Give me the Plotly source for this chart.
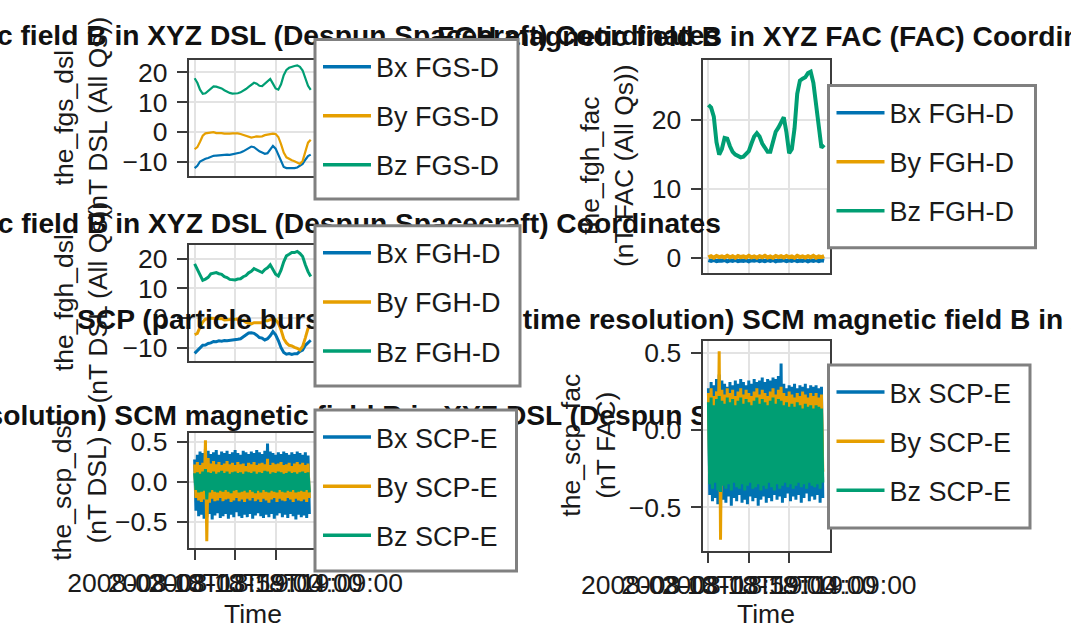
import pandas as pd
import plotly.graph_objects as go

W, H = 1071, 628
FONT = "Liberation Sans"
C_BX, C_BY, C_BZ = "#0072B2", "#E69F00", "#009E73"
SPINE = "#3c3c3c"
GRID = "#e3e3e3"
TXT = "#1a1a1a"

# ---------------- data ----------------
t_start = "2008-03-18 18:59:00"
x_range = ["2008-03-18 18:58:16", "2008-03-18 19:14:05"]
tick_times = ["2008-03-18 18:59:00", "2008-03-18 19:04:00", "2008-03-18 19:09:00"]
tick_labels = ["2008-03-18T18:59:00", "2008-03-18T19:04:00", "2008-03-18T19:09:00"]

# FGS DSL (20 s samples)
fgs_bx = [-12.0, -11.2, -9.8, -9.2, -8.9, -8.6, -8.2, -7.9, -7.8, -7.7, -7.6, -7.6, -7.5, -7.6, -7.4,
          -7.3, -7.2, -6.8, -6.4, -5.8, -5.1, -4.8, -5.0, -5.8, -6.4, -6.8, -7.2, -7.0, -5.8, -4.6,
          -5.5, -7.6, -9.8, -11.6, -12.0, -12.0, -12.1, -12.0, -11.8, -11.2, -10.6, -9.2, -8.0, -7.5]
fgs_by = [-5.7, -5.0, -3.2, -1.2, -0.4, -0.2, -0.1, 0.0, -0.3, -0.2, -0.3, -0.5, -0.6, -0.5, -0.4,
          -0.3, -0.4, -0.6, -0.9, -1.3, -1.7, -1.8, -1.6, -1.4, -1.5, -1.4, -1.0, -0.8, -0.6, -0.5,
          -0.6, -1.6, -4.0, -6.8, -8.4, -9.0, -9.4, -9.7, -10.2, -10.6, -9.6, -6.5, -3.5, -2.5]
fgs_bz = [18.0, 16.5, 14.2, 12.8, 13.0, 13.8, 14.8, 15.3, 15.2, 15.0, 14.6, 14.0, 13.5, 13.1, 12.9,
          12.9, 13.0, 13.3, 13.8, 14.4, 15.1, 15.8, 16.5, 16.2, 15.5, 15.4, 16.2, 17.0, 17.8, 16.2,
          14.6, 14.2, 16.0, 19.0, 20.8, 21.5, 21.9, 22.1, 22.3, 21.8, 20.6, 18.0, 15.5, 14.1]

# FGH DSL (20 s samples)
fgh_dsl_bx = [-11.8, -11.0, -9.9, -9.1, -9.0, -8.5, -8.3, -7.8, -7.9, -7.6, -7.7, -7.5, -7.6, -7.5, -7.3,
              -7.4, -7.1, -6.9, -6.3, -5.9, -5.0, -4.9, -5.1, -5.7, -6.5, -6.7, -7.3, -6.9, -5.9, -4.5,
              -5.6, -7.5, -9.9, -11.5, -12.1, -11.9, -12.2, -11.9, -11.9, -11.1, -10.7, -9.1, -8.1, -7.4]
fgh_dsl_by = [-5.5, -5.1, -3.0, -1.3, -0.3, -0.3, 0.0, -0.1, -0.2, -0.3, -0.2, -0.6, -0.5, -0.6, -0.3,
              -0.4, -0.3, -0.7, -0.8, -1.4, -1.6, -1.9, -1.5, -1.5, -1.4, -1.5, -0.9, -0.9, -0.5, -0.6,
              -0.5, -1.7, -3.9, -6.9, -8.3, -9.1, -9.3, -9.8, -10.1, -10.7, -9.5, -6.6, -3.4, -2.6]
fgh_dsl_bz = [18.2, 16.4, 14.3, 12.7, 13.1, 13.7, 14.9, 15.2, 15.3, 14.9, 14.7, 13.9, 13.6, 13.0, 13.0,
              12.8, 13.1, 13.2, 13.9, 14.3, 15.2, 15.7, 16.6, 16.1, 15.6, 15.3, 16.3, 16.9, 17.9, 16.1,
              14.7, 14.1, 16.1, 18.9, 20.9, 21.4, 22.0, 22.0, 22.4, 21.7, 20.7, 17.9, 15.6, 14.0]

# FGH FAC (20 s samples)
fgh_fac_bx = [-0.30, -0.42, -0.27, -0.45, -0.34, -0.39, -0.28, -0.46, -0.32, -0.41, -0.26, -0.44,
              -0.35, -0.40, -0.29, -0.47, -0.31, -0.38, -0.27, -0.43, -0.33, -0.45, -0.30, -0.41,
              -0.28, -0.46, -0.34, -0.39, -0.29, -0.44, -0.32, -0.42, -0.27, -0.45, -0.35, -0.40,
              -0.30, -0.47, -0.33, -0.41, -0.28, -0.43, -0.31, -0.39]
fgh_fac_by = [0.10, 0.28, 0.06, 0.31, 0.14, 0.25, 0.08, 0.33, 0.12, 0.27, 0.05, 0.30,
              0.15, 0.24, 0.09, 0.32, 0.11, 0.26, 0.07, 0.29, 0.13, 0.34, 0.10, 0.25,
              0.06, 0.31, 0.14, 0.27, 0.08, 0.30, 0.12, 0.24, 0.05, 0.33, 0.15, 0.26,
              0.09, 0.29, 0.11, 0.32, 0.07, 0.25, 0.13, 0.28]
fgh_fac_bz = [22.2, 21.8, 20.5, 16.8, 15.0, 15.8, 17.4, 17.3, 16.2, 15.4, 15.0, 14.8, 14.6, 14.7, 15.1,
              15.5, 16.6, 17.6, 18.1, 17.6, 16.6, 15.9, 15.4, 15.4, 16.8, 18.3, 18.9, 19.6, 20.4, 18.2,
              15.2, 15.8, 18.8, 23.8, 25.7, 26.0, 26.2, 26.8, 27.0, 25.4, 22.0, 18.6, 16.0, 16.4]

# SCP DSL (10 s samples of the burst waveform extremes)
scp_dsl_bx = [0.28, -0.36, 0.34, -0.43, 0.38, -0.41, 0.36, -0.46,
              0.41, -0.44, 0.39, -0.40, 0.35, -0.47, 0.37, -0.42,
              0.40, -0.39, 0.34, -0.45, 0.38, -0.43, 0.36, -0.40,
              0.39, -0.46, 0.35, -0.41, 0.37, -0.44, 0.40, -0.38,
              0.36, -0.43, 0.34, -0.45, 0.39, -0.41, 0.37, -0.44,
              0.35, -0.40, 0.38, -0.46, 0.36, -0.42, 0.40, -0.39,
              0.37, -0.43, 0.35, -0.45, 0.39, -0.41, 0.48, -0.44,
              0.38, -0.40, 0.36, -0.46, 0.34, -0.42, 0.37, -0.39,
              0.35, -0.44, 0.38, -0.41, 0.36, -0.45, 0.34, -0.40,
              0.37, -0.43, 0.35, -0.47, 0.38, -0.41, 0.36, -0.44,
              0.34, -0.42, 0.37, -0.45, 0.33, -0.40]
scp_dsl_by = [0.22, -0.20, 0.25, -0.23, 0.21, -0.25, 0.24, -0.22,
              0.52, -0.74, 0.30, -0.26, 0.23, -0.21, 0.26, -0.24,
              0.22, -0.23, 0.25, -0.20, 0.21, -0.24, 0.23, -0.22,
              0.26, -0.21, 0.22, -0.25, 0.24, -0.23, 0.21, -0.20,
              0.25, -0.24, 0.22, -0.22, 0.23, -0.25, 0.20, -0.21,
              0.24, -0.23, 0.22, -0.20, 0.25, -0.24, 0.21, -0.22,
              0.23, -0.25, 0.24, -0.21, 0.22, -0.23, 0.29, -0.26,
              0.21, -0.22, 0.24, -0.20, 0.22, -0.25, 0.23, -0.21,
              0.25, -0.23, 0.21, -0.24, 0.22, -0.20, 0.24, -0.22,
              0.20, -0.25, 0.23, -0.21, 0.25, -0.23, 0.22, -0.24,
              0.24, -0.22, 0.21, -0.25, 0.23, -0.20]
scp_dsl_bz = [0.11, -0.10, 0.12, -0.13, 0.10, -0.12, 0.13, -0.11,
              0.16, -0.22, 0.12, -0.13, 0.11, -0.10, 0.13, -0.12,
              0.10, -0.13, 0.12, -0.11, 0.14, -0.12, 0.11, -0.10,
              0.13, -0.12, 0.10, -0.14, 0.12, -0.11, 0.13, -0.10,
              0.11, -0.13, 0.12, -0.12, 0.10, -0.11, 0.13, -0.13,
              0.12, -0.10, 0.11, -0.12, 0.13, -0.14, 0.10, -0.11,
              0.12, -0.13, 0.11, -0.10, 0.14, -0.12, 0.13, -0.13,
              0.10, -0.11, 0.12, -0.12, 0.11, -0.13, 0.13, -0.10,
              0.12, -0.12, 0.10, -0.13, 0.11, -0.11, 0.13, -0.12,
              0.11, -0.10, 0.12, -0.13, 0.10, -0.12, 0.12, -0.11,
              0.13, -0.12, 0.11, -0.10, 0.12, -0.13]

# SCP FAC
scp_fac_bx = [0.27, -0.42, 0.31, -0.46, 0.29, -0.44, 0.33, -0.48,
              0.36, -0.52, 0.32, -0.45, 0.30, -0.47, 0.28, -0.43,
              0.31, -0.49, 0.29, -0.44, 0.32, -0.46, 0.30, -0.42,
              0.33, -0.47, 0.31, -0.45, 0.29, -0.48, 0.32, -0.43,
              0.30, -0.46, 0.33, -0.44, 0.31, -0.49, 0.32, -0.45,
              0.34, -0.43, 0.31, -0.47, 0.33, -0.44, 0.32, -0.46,
              0.34, -0.42, 0.33, -0.45, 0.35, -0.43, 0.43, -0.47,
              0.30, -0.44, 0.27, -0.41, 0.29, -0.46, 0.28, -0.43,
              0.30, -0.45, 0.27, -0.42, 0.29, -0.47, 0.28, -0.44,
              0.30, -0.41, 0.27, -0.46, 0.29, -0.43, 0.28, -0.45,
              0.29, -0.42, 0.27, -0.47, 0.28, -0.44]
scp_fac_by = [0.24, -0.28, 0.27, -0.31, 0.22, -0.26, 0.25, -0.30,
              0.51, -0.71, 0.26, -0.29, 0.23, -0.32, 0.27, -0.27,
              0.24, -0.30, 0.26, -0.28, 0.22, -0.31, 0.25, -0.29,
              0.27, -0.26, 0.23, -0.30, 0.26, -0.32, 0.24, -0.28,
              0.22, -0.29, 0.25, -0.31, 0.27, -0.27, 0.23, -0.30,
              0.26, -0.28, 0.24, -0.32, 0.22, -0.29, 0.25, -0.27,
              0.27, -0.31, 0.23, -0.28, 0.26, -0.30, 0.28, -0.29,
              0.24, -0.27, 0.22, -0.31, 0.25, -0.28, 0.23, -0.30,
              0.21, -0.29, 0.24, -0.27, 0.22, -0.31, 0.25, -0.28,
              0.23, -0.30, 0.21, -0.27, 0.24, -0.29, 0.22, -0.31,
              0.24, -0.28, 0.21, -0.30, 0.23, -0.27]
scp_fac_bz = [0.18, -0.35, 0.21, -0.38, 0.16, -0.34, 0.20, -0.39,
              0.22, -0.40, 0.19, -0.36, 0.17, -0.38, 0.21, -0.35,
              0.18, -0.39, 0.20, -0.34, 0.16, -0.37, 0.19, -0.38,
              0.21, -0.35, 0.17, -0.39, 0.20, -0.36, 0.18, -0.34,
              0.16, -0.38, 0.19, -0.37, 0.21, -0.35, 0.17, -0.39,
              0.20, -0.36, 0.18, -0.38, 0.16, -0.34, 0.19, -0.37,
              0.21, -0.39, 0.17, -0.35, 0.20, -0.38, 0.19, -0.36,
              0.16, -0.34, 0.18, -0.37, 0.15, -0.35, 0.17, -0.38,
              0.15, -0.36, 0.18, -0.34, 0.16, -0.37, 0.14, -0.35,
              0.17, -0.38, 0.15, -0.34, 0.16, -0.36, 0.14, -0.37,
              0.16, -0.35, 0.15, -0.38, 0.14, -0.34]

titles = [
    "FGS magnetic field B in XYZ DSL (Despun Spacecraft) Coordinates",
    "FGH magnetic field B in XYZ FAC (FAC) Coordinates",
    "FGH magnetic field B in XYZ DSL (Despun Spacecraft) Coordinates",
    "SCP (particle burst mode, higher time resolution) SCM magnetic field B in XYZ DSL (Despun Spacecraft) Coordinates",
    "SCP (particle burst mode, higher time resolution) SCM magnetic field B in XYZ FAC (FAC) Coordinates",
]
ylabels = [
    "the_fgs_dsl<br>(nT DSL (All Qs))",
    "the_fgh_fac<br>(nT FAC (All Qs))",
    "the_fgh_dsl<br>(nT DSL (All Qs))",
    "the_scp_dsl<br>(nT DSL)",
    "the_scp_fac<br>(nT FAC)",
]
legend_names = [
    ["Bx FGS-D", "By FGS-D", "Bz FGS-D"],
    ["Bx FGH-D", "By FGH-D", "Bz FGH-D"],
    ["Bx FGH-D", "By FGH-D", "Bz FGH-D"],
    ["Bx SCP-E", "By SCP-E", "Bz SCP-E"],
    ["Bx SCP-E", "By SCP-E", "Bz SCP-E"],
]
y_ranges = [[-14.5, 24.1], [-2.1, 28.64], [-14.3, 24.6], [-0.826, 0.607], [-0.779, 0.576]]
y_ticks = [[-10, 0, 10, 20], [0, 10, 20], [-10, 0, 10, 20], [-0.5, 0.0, 0.5], [-0.5, 0.0, 0.5]]
y_fmt = ["d", "d", "d", ".1f", ".1f"]

# ---------------- layout geometry (pixels) ----------------
# axis boxes: x0, x1, y_top, y_bottom
boxes = [(188.7, 316.8, 60.0, 175.6), (702.5, 830.2, 60.4, 272.6), (188.7, 316.8, 244.8, 360.8),
         (188.7, 316.8, 433.4, 548.0), (702.5, 830.2, 341.0, 550.5)]
# legend frames: x0, y0, x1, y1
legend_box = [(315, 39.6, 518, 199), (828.5, 85.6, 1035.5, 247.8), (315, 225.8, 520, 386),
              (315, 410, 516.5, 571), (828.5, 365, 1030, 528)]
# title anchor x, y, anchor side, drawing layer
title_pos = [(720.0, 33.0, "right", "above"), (1137.0, 33.5, "right", "above"),
             (720.8, 220.7, "right", "above"), (1016.0, 412.7, "right", "below"),
             (77.0, 316.5, "left", "above")]
ylabel_pos = [(80.5, 118), (607, 166), (80.5, 303), (79, 490.7), (588, 445.7)]
time_y = 613.5

fgs_t = pd.date_range(t_start, periods=len(fgs_bz), freq="20s")
fac_t = pd.date_range(t_start, periods=len(fgh_fac_bz), freq="20s")
scp_t = pd.date_range(t_start, periods=len(scp_dsl_bx), freq="10s")

series = [
    (fgs_t, [fgs_bx, fgs_by, fgs_bz], 2.2),
    (fac_t, [fgh_fac_bx, fgh_fac_by, fgh_fac_bz], 4.0),
    (fgs_t, [fgh_dsl_bx, fgh_dsl_by, fgh_dsl_bz], 3.0),
    (scp_t, [scp_dsl_bx, scp_dsl_by, scp_dsl_bz], 3.0),
    (scp_t, [scp_fac_bx, scp_fac_by, scp_fac_bz], 3.0),
]
colors = [C_BX, C_BY, C_BZ]

fig = go.Figure()
layout = dict(width=W, height=H, margin=dict(l=0, r=0, t=0, b=0), autosize=False,
              paper_bgcolor="white", plot_bgcolor="white", font=dict(family=FONT, color=TXT),
              showlegend=True)
title_shapes, frame_shapes, annotations = [], [], []

for i in range(5):
    k = "" if i == 0 else str(i + 1)
    x0, x1, yt, yb = boxes[i]
    has_xlabels = i in (3, 4)
    layout["xaxis" + k] = dict(
        type="date", domain=[x0 / W, x1 / W], anchor="y" + k, range=x_range,
        showgrid=True, gridcolor=GRID, gridwidth=1.5, zeroline=False,
        showline=True, mirror=True, linecolor=SPINE, linewidth=2,
        tickmode="array", tickvals=tick_times, ticktext=tick_labels, tickangle=0,
        ticks="outside" if has_xlabels else "", ticklen=10, tickwidth=2, tickcolor=SPINE,
        showticklabels=has_xlabels, tickfont=dict(size=26.5, family=FONT, color=TXT),
        ticklabelstandoff=0, automargin=False, fixedrange=True)
    layout["yaxis" + k] = dict(
        domain=[1 - yb / H, 1 - yt / H], anchor="x" + k, range=y_ranges[i],
        showgrid=True, gridcolor=GRID, gridwidth=1.5, zeroline=False,
        showline=True, mirror=True, linecolor=SPINE, linewidth=2,
        tickmode="array", tickvals=y_ticks[i], tickformat=y_fmt[i],
        ticks="outside", ticklen=10, tickwidth=2, tickcolor=SPINE,
        tickfont=dict(size=26.5, family=FONT, color=TXT),
        ticklabelstandoff=4, automargin=False, fixedrange=True)
    lk = "legend" + k
    bx0, by0, bx1, by1 = legend_box[i]
    layout[lk] = dict(x=(bx0 + 3) / W, y=1 - (by0 + 3) / H, xanchor="left", yanchor="top",
                      bgcolor="rgba(0,0,0,0)", borderwidth=0,
                      font=dict(family=FONT, size=27, color=TXT),
                      tracegroupgap=11, itemwidth=48)
    # legend frame (drawn above the titles and the plot frames)
    frame_shapes.append(dict(type="rect", xref="paper", yref="paper", x0=bx0 / W, x1=bx1 / W,
                             y0=1 - by1 / H, y1=1 - by0 / H, layer="above", fillcolor="white",
                             line=dict(color="#808080", width=3)))
    t, vals, lw = series[i]
    for j in range(3):
        grp = f"p{i}s{j}"
        fig.add_trace(go.Scatter(x=t, y=vals[j], mode="lines", line=dict(color=colors[j], width=lw),
                                 xaxis="x" + k, yaxis="y" + k, legend=lk, legendgroup=grp,
                                 showlegend=False, name=legend_names[i][j]))
        fig.add_trace(go.Scatter(x=[None], y=[None], mode="lines", line=dict(color=colors[j], width=3.5),
                                 xaxis="x" + k, yaxis="y" + k, legend=lk, legendgroup=grp,
                                 showlegend=True, name=legend_names[i][j]))
    # title as a shape label
    tx, ty, anc, lay = title_pos[i]
    xp, yp = tx / W, 1 - ty / H
    if anc == "right":
        sx0, sx1, tp = xp - 0.01, xp, "end"
    else:
        sx0, sx1, tp = xp, xp + 0.01, "start"
    title_shapes.append(dict(type="line", xref="paper", yref="paper", x0=sx0, x1=sx1, y0=yp, y1=yp,
                             layer=lay, line=dict(width=0, color="rgba(0,0,0,0)"),
                             label=dict(text=titles[i], textposition=tp, xanchor=anc, yanchor="middle",
                                        padding=0, font=dict(family=FONT, size=28.2, color="#111111",
                                                             weight="bold"))))
    # y label
    ax_, ay_ = ylabel_pos[i]
    annotations.append(dict(text=ylabels[i], x=ax_ / W, y=1 - ay_ / H, xref="paper", yref="paper",
                            textangle=-90, showarrow=False, xanchor="center", yanchor="middle",
                            font=dict(family=FONT, size=26.5, color=TXT)))
    if has_xlabels:
        annotations.append(dict(text="Time", x=(x0 + x1) / 2 / W, y=1 - time_y / H,
                                xref="paper", yref="paper", showarrow=False,
                                xanchor="center", yanchor="middle",
                                font=dict(family=FONT, size=26.5, color=TXT)))

# panel 5 area is drawn above the panel 4 title
cover = dict(type="rect", xref="x5", yref="y5", x0=x_range[0], x1=x_range[1],
             y0=y_ranges[4][0], y1=y_ranges[4][1], layer="below",
             fillcolor="white", line=dict(width=0))

layout["shapes"] = title_shapes + frame_shapes + [cover]
layout["annotations"] = annotations
fig.update_layout(**layout)
fig.write_html("out.html")
